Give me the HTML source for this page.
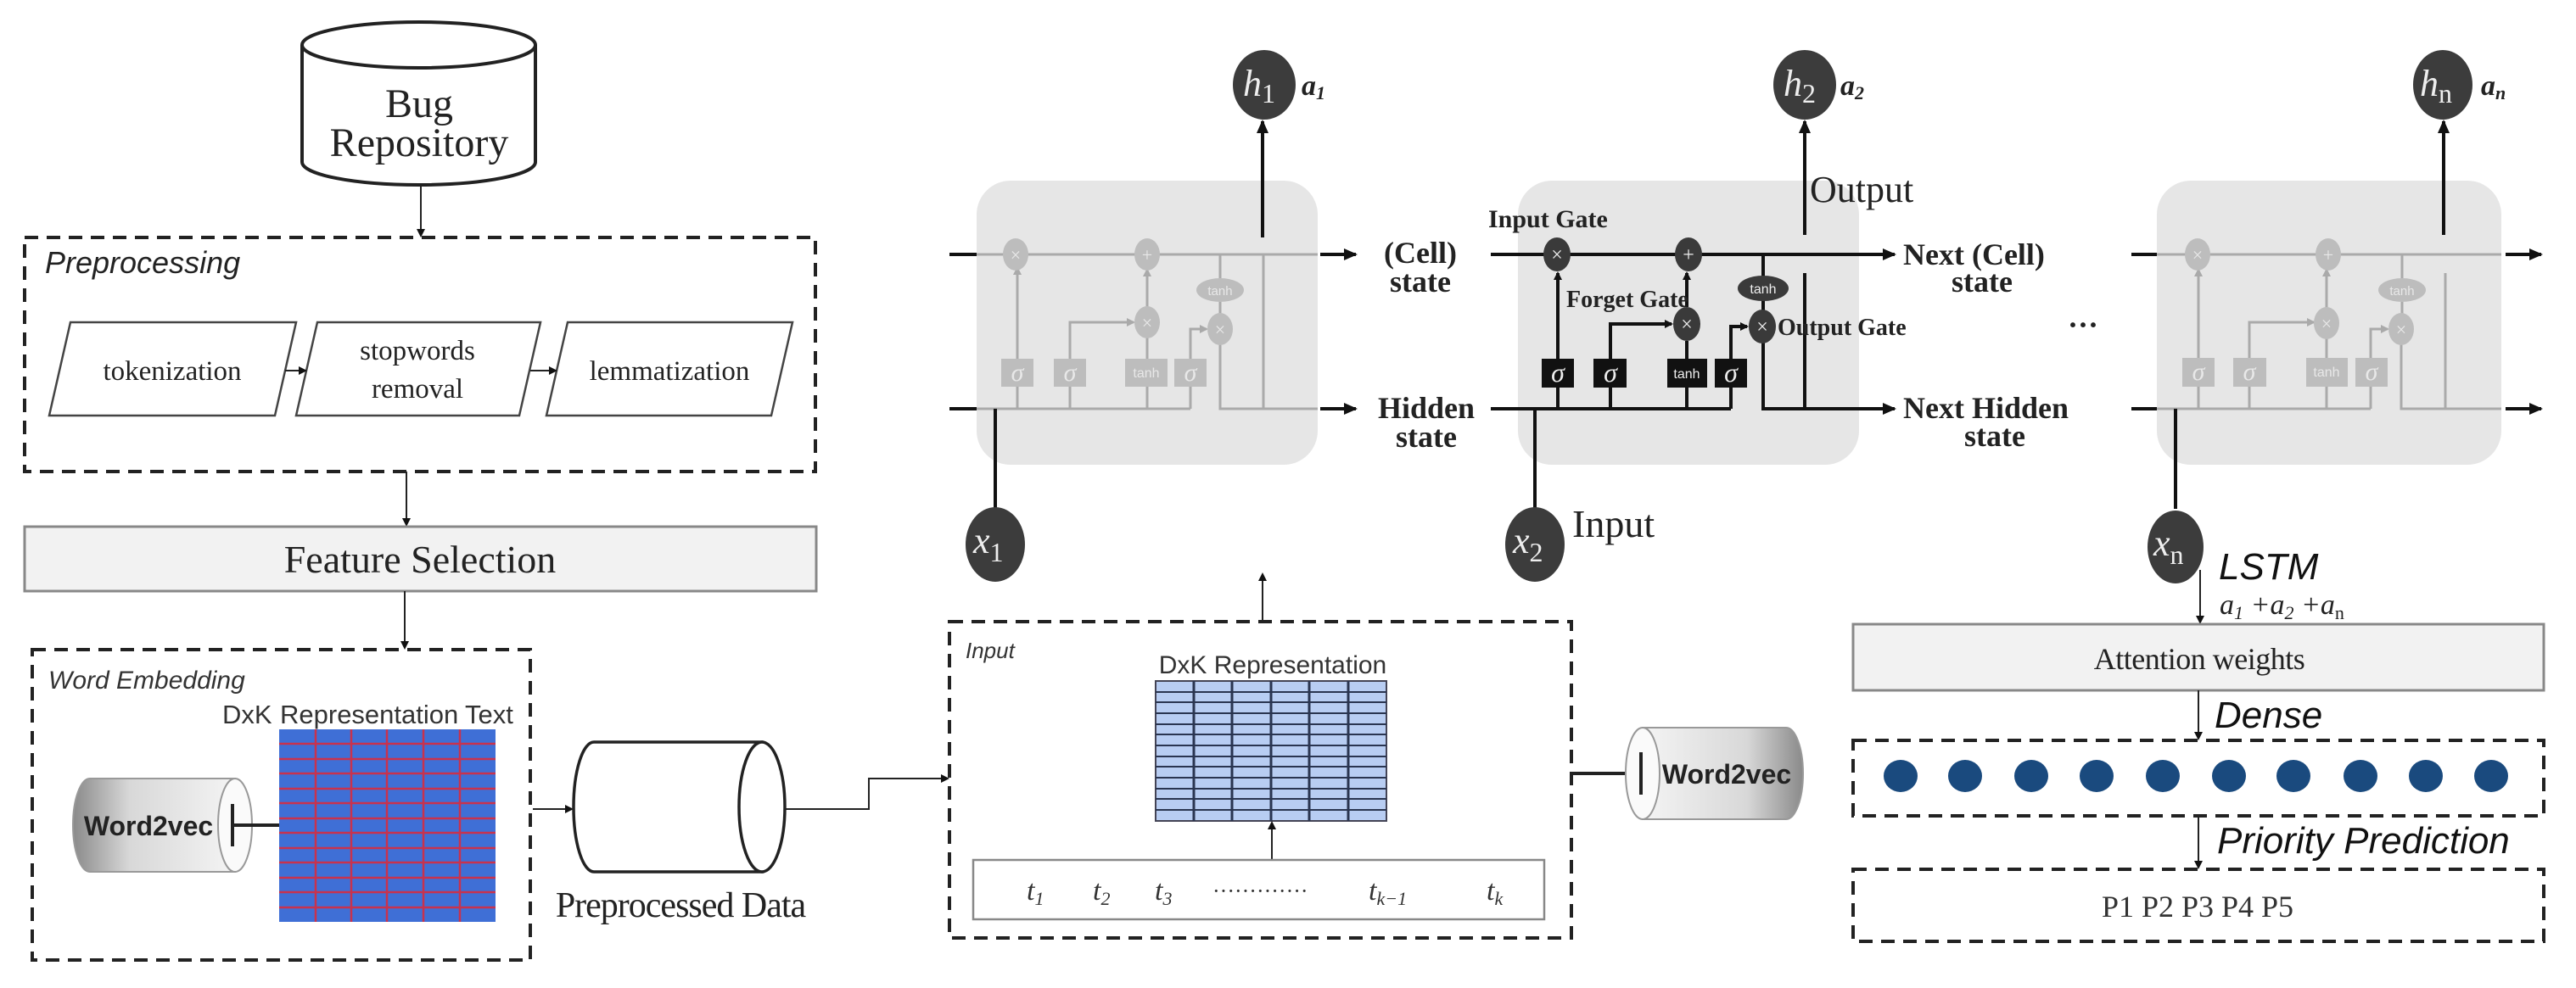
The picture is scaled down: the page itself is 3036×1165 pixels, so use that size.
<!DOCTYPE html>
<html><head><meta charset="utf-8"><style>
html,body{margin:0;padding:0;background:#fff;}
svg{display:block;}
.serif{font-family:"Liberation Serif",serif;}
.sans{font-family:"Liberation Sans",sans-serif;}
</style></head><body>
<svg width="3036" height="1165" viewBox="0 0 3036 1165" xmlns="http://www.w3.org/2000/svg">
<defs>
<marker id="ar" markerWidth="10" markerHeight="10" refX="8" refY="5" orient="auto" markerUnits="userSpaceOnUse"><path d="M0,0 L10,5 L0,10 z" fill="#111"/></marker>
<marker id="arL" markerWidth="16" markerHeight="14" refX="14" refY="7" orient="auto" markerUnits="userSpaceOnUse"><path d="M0,0 L16,7 L0,14 z" fill="#111"/></marker>
<marker id="arG" markerWidth="10" markerHeight="10" refX="8" refY="5" orient="auto" markerUnits="userSpaceOnUse"><path d="M0,0 L10,5 L0,10 z" fill="#aaa"/></marker>
<linearGradient id="w2v" x1="0" y1="0" x2="1" y2="0"><stop offset="0" stop-color="#8a8a8a"/><stop offset="0.35" stop-color="#d8d8d8"/><stop offset="1" stop-color="#f4f4f4"/></linearGradient>
<linearGradient id="w2vR" x1="0" y1="0" x2="1" y2="0"><stop offset="0" stop-color="#f4f4f4"/><stop offset="0.65" stop-color="#d8d8d8"/><stop offset="1" stop-color="#8a8a8a"/></linearGradient>
</defs>

<!-- Bug Repository cylinder -->
<path d="M356,53 L356,191 A137.5,27 0 0 0 631,191 L631,53" fill="#fff" stroke="#222" stroke-width="4"/>
<ellipse cx="493.5" cy="53" rx="137.5" ry="27" fill="#fff" stroke="#222" stroke-width="4"/>
<text x="494" y="138" class="serif" font-size="48" text-anchor="middle" fill="#222">Bug</text>
<text x="494" y="184" class="serif" font-size="48" text-anchor="middle" fill="#222">Repository</text>
<line x1="496" y1="218" x2="496" y2="278" stroke="#222" stroke-width="2" marker-end="url(#ar)"/>

<!-- Preprocessing -->
<rect x="29" y="280" width="932" height="276" fill="none" stroke="#222" stroke-width="4" stroke-dasharray="16,10"/>
<text x="53" y="322" class="sans" font-size="36" font-style="italic" fill="#222">Preprocessing</text>
<polygon points="83,380 349,380 324,490 58,490" fill="#fff" stroke="#444" stroke-width="2.5"/>
<polygon points="374,380 637,380 612,490 349,490" fill="#fff" stroke="#444" stroke-width="2.5"/>
<polygon points="669,380 934,380 909,490 644,490" fill="#fff" stroke="#444" stroke-width="2.5"/>
<text x="203" y="448" class="serif" font-size="33" text-anchor="middle" fill="#222">tokenization</text>
<text x="492" y="424" class="serif" font-size="33" text-anchor="middle" fill="#222">stopwords</text>
<text x="492" y="469" class="serif" font-size="33" text-anchor="middle" fill="#222">removal</text>
<text x="789" y="448" class="serif" font-size="33" text-anchor="middle" fill="#222">lemmatization</text>
<line x1="336" y1="437" x2="360" y2="437" stroke="#222" stroke-width="2" marker-end="url(#ar)"/>
<line x1="625" y1="437" x2="655" y2="437" stroke="#222" stroke-width="2" marker-end="url(#ar)"/>
<line x1="479" y1="556" x2="479" y2="619" stroke="#222" stroke-width="2" marker-end="url(#ar)"/>

<!-- Feature Selection -->
<rect x="29" y="621" width="933" height="76" fill="#f2f2f2" stroke="#888" stroke-width="3"/>
<text x="495" y="675" class="serif" font-size="46" text-anchor="middle" fill="#222">Feature Selection</text>
<line x1="477" y1="697" x2="477" y2="764" stroke="#222" stroke-width="2" marker-end="url(#ar)"/>

<!-- Word Embedding -->
<rect x="38" y="766" width="587" height="366" fill="none" stroke="#222" stroke-width="4" stroke-dasharray="16,10"/>
<text x="57" y="812" class="sans" font-size="30" font-style="italic" fill="#333">Word Embedding</text>
<text x="262" y="853" class="sans" font-size="31" fill="#333">DxK <tspan x="330">Representation</tspan><tspan x="548">Text</tspan></text>
<rect x="329" y="860" width="255" height="227" fill="#3f6fd6"/>
<g stroke="#c8324e" stroke-width="2.5">
<line x1="372" y1="860" x2="372" y2="1087"/><line x1="414" y1="860" x2="414" y2="1087"/><line x1="456" y1="860" x2="456" y2="1087"/><line x1="499" y1="860" x2="499" y2="1087"/><line x1="542" y1="860" x2="542" y2="1087"/>
<line x1="329" y1="877" x2="584" y2="877"/><line x1="329" y1="895" x2="584" y2="895"/><line x1="329" y1="912" x2="584" y2="912"/><line x1="329" y1="930" x2="584" y2="930"/><line x1="329" y1="947" x2="584" y2="947"/><line x1="329" y1="965" x2="584" y2="965"/><line x1="329" y1="982" x2="584" y2="982"/><line x1="329" y1="1000" x2="584" y2="1000"/><line x1="329" y1="1017" x2="584" y2="1017"/><line x1="329" y1="1035" x2="584" y2="1035"/><line x1="329" y1="1052" x2="584" y2="1052"/><line x1="329" y1="1070" x2="584" y2="1070"/>
</g>
<!-- Word2vec left -->
<path d="M106,918 L277,918 L277,1028 L106,1028 A20,55 0 0 1 106,918 z" fill="url(#w2v)" stroke="#999" stroke-width="2"/>
<ellipse cx="277" cy="973" rx="20" ry="55" fill="#fafafa" stroke="#999" stroke-width="2"/>
<text x="175" y="985" class="sans" font-size="32" font-weight="bold" text-anchor="middle" fill="#222">Word2vec</text>
<line x1="274" y1="948" x2="274" y2="998" stroke="#222" stroke-width="4"/>
<line x1="274" y1="973" x2="329" y2="973" stroke="#222" stroke-width="4"/>

<!-- Preprocessed data -->
<line x1="628" y1="954" x2="674" y2="954" stroke="#222" stroke-width="2" marker-end="url(#ar)"/>
<path d="M700,875 L898,875 L898,1028 L700,1028 A24,76.5 0 0 1 700,875 z" fill="#fff" stroke="#222" stroke-width="3.5"/>
<ellipse cx="898" cy="951.5" rx="27" ry="76.5" fill="#fff" stroke="#222" stroke-width="3.5"/>
<text x="802" y="1081" class="serif" font-size="42" text-anchor="middle" fill="#222" letter-spacing="-1">Preprocessed Data</text>
<polyline points="925,954 1024,954 1024,918 1117,918" fill="none" stroke="#222" stroke-width="2" marker-end="url(#ar)"/>

<!-- Input box -->
<rect x="1119" y="733" width="733" height="373" fill="none" stroke="#222" stroke-width="4" stroke-dasharray="16,10"/>
<text x="1138" y="776" class="sans" font-size="26" font-style="italic" fill="#333">Input</text>
<text x="1500" y="794" class="sans" font-size="30" text-anchor="middle" fill="#333">DxK Representation</text>
<rect x="1362" y="803" width="272" height="165" fill="#b8cdf2" stroke="#445" stroke-width="2"/>
<g stroke="#2a3550" stroke-width="3">
<line x1="1407" y1="803" x2="1407" y2="968"/><line x1="1452" y1="803" x2="1452" y2="968"/><line x1="1498" y1="803" x2="1498" y2="968"/><line x1="1543" y1="803" x2="1543" y2="968"/><line x1="1589" y1="803" x2="1589" y2="968"/>
</g>
<g stroke="#2a3550" stroke-width="2">
<line x1="1362" y1="816" x2="1634" y2="816"/><line x1="1362" y1="828" x2="1634" y2="828"/><line x1="1362" y1="841" x2="1634" y2="841"/><line x1="1362" y1="854" x2="1634" y2="854"/><line x1="1362" y1="866" x2="1634" y2="866"/><line x1="1362" y1="879" x2="1634" y2="879"/><line x1="1362" y1="892" x2="1634" y2="892"/><line x1="1362" y1="904" x2="1634" y2="904"/><line x1="1362" y1="917" x2="1634" y2="917"/><line x1="1362" y1="930" x2="1634" y2="930"/><line x1="1362" y1="942" x2="1634" y2="942"/><line x1="1362" y1="955" x2="1634" y2="955"/>
</g>
<line x1="1499" y1="1014" x2="1499" y2="970" stroke="#222" stroke-width="2" marker-end="url(#ar)"/>
<rect x="1147" y="1014" width="673" height="70" fill="#fff" stroke="#888" stroke-width="2.5"/>
<g class="serif" font-size="34" font-style="italic" fill="#333">
<text x="1210" y="1061">t<tspan font-size="22" dy="6">1</tspan></text>
<text x="1288" y="1061">t<tspan font-size="22" dy="6">2</tspan></text>
<text x="1361" y="1061">t<tspan font-size="22" dy="6">3</tspan></text>
<text x="1429" y="1059" font-style="normal" font-size="26">·············</text>
<text x="1613" y="1061">t<tspan font-size="22" dy="6">k−1</tspan></text>
<text x="1752" y="1061">t<tspan font-size="22" dy="6">k</tspan></text>
</g>
<line x1="1488" y1="733" x2="1488" y2="677" stroke="#222" stroke-width="2" marker-end="url(#ar)"/>

<!-- Word2vec right -->
<line x1="1852" y1="912" x2="1936" y2="912" stroke="#222" stroke-width="4"/>
<path d="M1936,858 L2105,858 A20,54 0 0 1 2105,966 L1936,966 z" fill="url(#w2vR)" stroke="#999" stroke-width="2"/>
<ellipse cx="1936" cy="912" rx="20" ry="54" fill="#fafafa" stroke="#999" stroke-width="2"/>
<line x1="1934" y1="887" x2="1934" y2="937" stroke="#222" stroke-width="4"/>
<text x="2035" y="924" class="sans" font-size="32" font-weight="bold" text-anchor="middle" fill="#222">Word2vec</text>

<!-- LSTM cells: boxes -->
<rect x="1151" y="213" width="402" height="335" rx="40" fill="#e6e6e6"/>
<rect x="1789" y="213" width="402" height="335" rx="40" fill="#e6e6e6"/>
<rect x="2542" y="213" width="406" height="335" rx="40" fill="#e6e6e6"/>

<!-- Cell 1 (gray) -->
<g stroke="#aaa" stroke-width="3" fill="none">
<line x1="1151" y1="300" x2="1553" y2="300"/>
<polyline points="1151,482 1403,482"/>
<polyline points="1438,401 1438,482 1553,482"/>
<line x1="1489" y1="300" x2="1489" y2="482"/>
<line x1="1199" y1="482" x2="1199" y2="456"/><line x1="1199" y1="423" x2="1199" y2="316" marker-end="url(#arG)"/>
<line x1="1261" y1="482" x2="1261" y2="456"/><polyline points="1261,423 1261,380 1336,380" marker-end="url(#arG)"/>
<line x1="1352" y1="482" x2="1352" y2="456"/><line x1="1352" y1="423" x2="1352" y2="396"/><line x1="1352" y1="362" x2="1352" y2="318" marker-end="url(#arG)"/>
<line x1="1403" y1="482" x2="1403" y2="456"/><polyline points="1403,423 1403,388 1422,388" marker-end="url(#arG)"/>
<line x1="1438" y1="300" x2="1438" y2="328"/><line x1="1438" y1="356" x2="1438" y2="370"/>
</g>
<g fill="#bdbdbd">
<ellipse cx="1197" cy="300" rx="15" ry="19"/><ellipse cx="1352" cy="300" rx="15" ry="19"/><ellipse cx="1352" cy="380" rx="15" ry="19"/><ellipse cx="1438" cy="342" rx="28" ry="14"/><ellipse cx="1438" cy="388" rx="15" ry="19"/>
<rect x="1180" y="423" width="38" height="33"/><rect x="1242" y="423" width="38" height="33"/><rect x="1326" y="423" width="50" height="33"/><rect x="1384" y="423" width="38" height="33"/>
</g>
<g fill="#e8e8e8" class="serif" text-anchor="middle">
<text x="1197" y="308" font-size="22">×</text><text x="1352" y="308" font-size="22">+</text><text x="1352" y="388" font-size="22">×</text><text x="1438" y="396" font-size="22">×</text>
<text x="1438" y="348" font-size="15" class="sans">tanh</text>
<text x="1199" y="449" font-size="30" font-style="italic">σ</text><text x="1261" y="449" font-size="30" font-style="italic">σ</text><text x="1351" y="445" font-size="16" class="sans">tanh</text><text x="1403" y="449" font-size="30" font-style="italic">σ</text>
</g>
<g stroke="#111" stroke-width="4">
<line x1="1119" y1="300" x2="1151" y2="300"/><line x1="1119" y1="482" x2="1151" y2="482"/>
<line x1="1556" y1="300" x2="1598" y2="300" marker-end="url(#arL)"/><line x1="1556" y1="482" x2="1598" y2="482" marker-end="url(#arL)"/>
<line x1="1173" y1="600" x2="1173" y2="482"/>
<line x1="1488" y1="280" x2="1488" y2="143" marker-end="url(#arL)"/>
</g>
<text x="1674" y="310" class="serif" font-size="36" font-weight="bold" text-anchor="middle" fill="#222">(Cell)</text>
<text x="1674" y="344" class="serif" font-size="36" font-weight="bold" text-anchor="middle" fill="#222">state</text>
<text x="1681" y="493" class="serif" font-size="36" font-weight="bold" text-anchor="middle" fill="#222">Hidden</text>
<text x="1681" y="527" class="serif" font-size="36" font-weight="bold" text-anchor="middle" fill="#222">state</text>

<!-- Cell 2 (black) -->
<g stroke="#111" stroke-width="4" fill="none">
<line x1="1757" y1="300" x2="2233" y2="300" marker-end="url(#arL)"/>
<polyline points="1757,482 2040,482"/>
<polyline points="2078,404 2078,482 2233,482" marker-end="url(#arL)"/>
<line x1="2127" y1="322" x2="2127" y2="482"/>
<line x1="2127" y1="277" x2="2127" y2="143" marker-end="url(#arL)"/>
<line x1="1836" y1="482" x2="1836" y2="457"/><line x1="1836" y1="423" x2="1836" y2="322" marker-end="url(#ar)"/>
<line x1="1898" y1="482" x2="1898" y2="457"/><polyline points="1898,423 1898,382 1970,382" marker-end="url(#ar)"/>
<line x1="1988" y1="482" x2="1988" y2="457"/><line x1="1988" y1="423" x2="1988" y2="402"/><line x1="1988" y1="362" x2="1988" y2="322" marker-end="url(#ar)"/>
<line x1="2040" y1="482" x2="2040" y2="457"/><polyline points="2040,423 2040,385 2059,385" marker-end="url(#ar)"/>
<line x1="2078" y1="300" x2="2078" y2="326"/><line x1="2078" y1="354" x2="2078" y2="366"/>
<line x1="1809" y1="600" x2="1809" y2="482"/>
</g>
<g fill="#3a3a3a">
<ellipse cx="1835" cy="300" rx="16" ry="20"/><ellipse cx="1990" cy="300" rx="16" ry="20"/><ellipse cx="1988" cy="382" rx="16" ry="20"/><ellipse cx="2078" cy="340" rx="30" ry="15"/><ellipse cx="2077" cy="385" rx="16" ry="20"/>
</g>
<g fill="#111">
<rect x="1817" y="423" width="38" height="34"/><rect x="1878" y="423" width="39" height="34"/><rect x="1965" y="423" width="47" height="34"/><rect x="2021" y="423" width="38" height="34"/>
</g>
<g fill="#eee" class="serif" text-anchor="middle">
<text x="1835" y="308" font-size="24">×</text><text x="1990" y="308" font-size="24">+</text><text x="1988" y="390" font-size="24">×</text><text x="2077" y="393" font-size="24">×</text>
<text x="2078" y="346" font-size="16" class="sans">tanh</text>
<text x="1836" y="450" font-size="32" font-style="italic">σ</text><text x="1898" y="450" font-size="32" font-style="italic">σ</text><text x="1988" y="446" font-size="16" class="sans">tanh</text><text x="2040" y="450" font-size="32" font-style="italic">σ</text>
</g>
<g class="serif" font-weight="bold" fill="#222">
<text x="1754" y="268" font-size="30">Input Gate</text>
<text x="1846" y="362" font-size="28">Forget Gate</text>
<text x="2095" y="395" font-size="28">Output  Gate</text>
<text x="2243" y="312" font-size="36">Next (Cell)</text>
<text x="2336" y="344" font-size="36" text-anchor="middle">state</text>
<text x="2243" y="493" font-size="36">Next Hidden</text>
<text x="2351" y="526" font-size="36" text-anchor="middle">state</text>
<text x="2437" y="395" font-size="36">···</text>
</g>
<text x="2133" y="238" class="serif" font-size="44" fill="#222">Output</text>

<!-- Cell n (gray) -->
<g stroke="#aaa" stroke-width="3" fill="none">
<line x1="2542" y1="300" x2="2948" y2="300"/>
<polyline points="2542,482 2794,482"/>
<polyline points="2830,401 2830,482 2948,482"/>
<line x1="2882" y1="322" x2="2882" y2="482"/>
<line x1="2591" y1="482" x2="2591" y2="456"/><line x1="2591" y1="422" x2="2591" y2="318" marker-end="url(#arG)"/>
<line x1="2651" y1="482" x2="2651" y2="456"/><polyline points="2651,422 2651,380 2727,380" marker-end="url(#arG)"/>
<line x1="2742" y1="482" x2="2742" y2="456"/><line x1="2742" y1="422" x2="2742" y2="397"/><line x1="2742" y1="363" x2="2742" y2="318" marker-end="url(#arG)"/>
<line x1="2794" y1="482" x2="2794" y2="456"/><polyline points="2794,422 2794,388 2814,388" marker-end="url(#arG)"/>
<line x1="2831" y1="300" x2="2831" y2="328"/><line x1="2831" y1="356" x2="2831" y2="370"/>
</g>
<g fill="#bdbdbd">
<ellipse cx="2590" cy="300" rx="15" ry="19"/><ellipse cx="2744" cy="300" rx="15" ry="19"/><ellipse cx="2742" cy="381" rx="15" ry="19"/><ellipse cx="2831" cy="342" rx="28" ry="14"/><ellipse cx="2830" cy="388" rx="15" ry="19"/>
<rect x="2572" y="422" width="38" height="34"/><rect x="2632" y="422" width="39" height="34"/><rect x="2718" y="422" width="49" height="34"/><rect x="2776" y="422" width="38" height="34"/>
</g>
<g fill="#e8e8e8" class="serif" text-anchor="middle">
<text x="2590" y="308" font-size="22">×</text><text x="2744" y="308" font-size="22">+</text><text x="2742" y="389" font-size="22">×</text><text x="2830" y="396" font-size="22">×</text>
<text x="2831" y="348" font-size="15" class="sans">tanh</text>
<text x="2591" y="448" font-size="30" font-style="italic">σ</text><text x="2651" y="448" font-size="30" font-style="italic">σ</text><text x="2742" y="444" font-size="16" class="sans">tanh</text><text x="2795" y="448" font-size="30" font-style="italic">σ</text>
</g>
<g stroke="#111" stroke-width="4">
<line x1="2512" y1="300" x2="2542" y2="300"/><line x1="2512" y1="482" x2="2542" y2="482"/>
<line x1="2953" y1="300" x2="2995" y2="300" marker-end="url(#arL)"/><line x1="2953" y1="482" x2="2995" y2="482" marker-end="url(#arL)"/>
<line x1="2564" y1="600" x2="2564" y2="482"/>
<line x1="2880" y1="277" x2="2880" y2="143" marker-end="url(#arL)"/>
</g>

<!-- h and x circles -->
<g fill="#3c3c3c">
<ellipse cx="1490" cy="100" rx="37" ry="41"/><ellipse cx="2127" cy="100" rx="37" ry="41"/><ellipse cx="2879" cy="100" rx="35" ry="41"/>
<ellipse cx="1173" cy="642" rx="35" ry="44"/><ellipse cx="1809" cy="642" rx="35" ry="44"/><ellipse cx="2564" cy="645" rx="33" ry="43"/>
</g>
<g class="serif" font-style="italic" fill="#eee" font-size="44">
<text x="1465" y="113">h<tspan font-size="32" font-style="normal" dy="8">1</tspan></text>
<text x="2102" y="113">h<tspan font-size="32" font-style="normal" dy="8">2</tspan></text>
<text x="2852" y="113">h<tspan font-size="32" font-style="normal" dy="8">n</tspan></text>
<text x="1147" y="652">x<tspan font-size="32" font-style="normal" dy="10">1</tspan></text>
<text x="1783" y="652">x<tspan font-size="32" font-style="normal" dy="10">2</tspan></text>
<text x="2538" y="655">x<tspan font-size="32" font-style="normal" dy="10">n</tspan></text>
</g>
<g class="serif" font-style="italic" font-weight="bold" fill="#222" font-size="34">
<text x="1534" y="112">a<tspan font-size="22" dy="5">1</tspan></text>
<text x="2169" y="112">a<tspan font-size="22" dy="5">2</tspan></text>
<text x="2924" y="112">a<tspan font-size="22" dy="5">n</tspan></text>
</g>
<text x="1853" y="633" class="serif" font-size="46" fill="#222">Input</text>

<!-- Right stack -->
<text x="2615" y="683" class="sans" font-size="44" font-style="italic" fill="#111">LSTM</text>
<text x="2616" y="724" class="serif" font-size="34" font-style="italic" fill="#222">a<tspan font-size="22" dy="6">1</tspan><tspan dy="-6"> +a</tspan><tspan font-size="22" dy="6">2</tspan><tspan dy="-6"> +a</tspan><tspan font-size="22" dy="6" font-style="normal">n</tspan></text>
<line x1="2593" y1="672" x2="2593" y2="734" stroke="#222" stroke-width="2" marker-end="url(#ar)"/>
<rect x="2184" y="736" width="814" height="78" fill="#f2f2f2" stroke="#888" stroke-width="3"/>
<text x="2592" y="789" class="serif" font-size="36" text-anchor="middle" fill="#222" letter-spacing="-0.5">Attention weights</text>
<line x1="2591" y1="814" x2="2591" y2="871" stroke="#222" stroke-width="2" marker-end="url(#ar)"/>
<text x="2610" y="858" class="sans" font-size="44" font-style="italic" fill="#111">Dense</text>
<rect x="2184" y="873" width="814" height="89" fill="none" stroke="#222" stroke-width="4" stroke-dasharray="16,10"/>
<g fill="#1a4a7e">
<ellipse cx="2240" cy="915" rx="20" ry="19"/><ellipse cx="2316" cy="915" rx="20" ry="19"/><ellipse cx="2394" cy="915" rx="20" ry="19"/><ellipse cx="2471" cy="915" rx="20" ry="19"/><ellipse cx="2549" cy="915" rx="20" ry="19"/><ellipse cx="2627" cy="915" rx="20" ry="19"/><ellipse cx="2703" cy="915" rx="20" ry="19"/><ellipse cx="2782" cy="915" rx="20" ry="19"/><ellipse cx="2859" cy="915" rx="20" ry="19"/><ellipse cx="2936" cy="915" rx="20" ry="19"/>
</g>
<line x1="2591" y1="962" x2="2591" y2="1023" stroke="#222" stroke-width="2" marker-end="url(#ar)"/>
<text x="2613" y="1006" class="sans" font-size="44" font-style="italic" fill="#111">Priority Prediction</text>
<rect x="2184" y="1025" width="814" height="85" fill="none" stroke="#222" stroke-width="4" stroke-dasharray="16,10"/>
<text x="2590" y="1081" class="serif" font-size="36" text-anchor="middle" fill="#333">P1 P2 P3 P4 P5</text>
</svg>
</body></html>
